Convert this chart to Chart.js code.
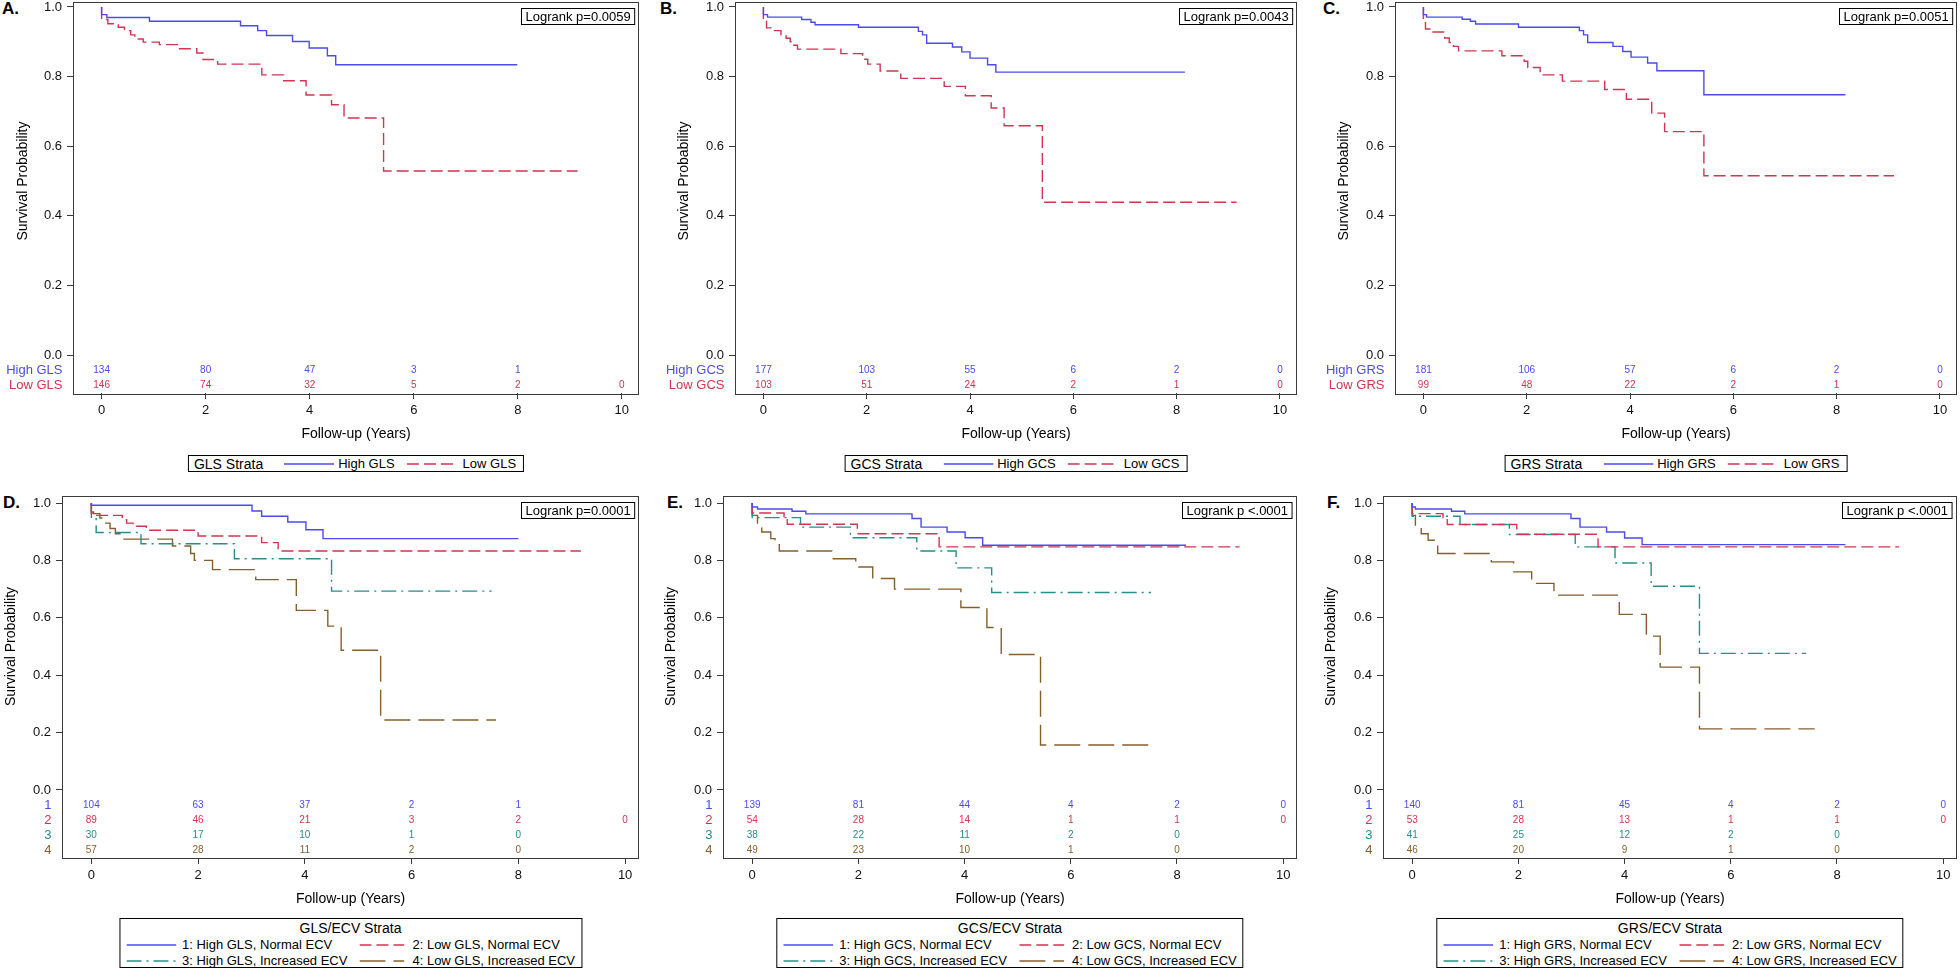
<!DOCTYPE html>
<html>
<head>
<meta charset="utf-8">
<title>Kaplan-Meier curves by strain strata</title>
<script src="https://cdn.jsdelivr.net/npm/chart.js@4.4.1/dist/chart.umd.min.js"></script>
<style>
  html, body { margin: 0; padding: 0; background: #fff; }
  body { width: 1960px; height: 968px; position: relative; overflow: hidden; font-family: "Liberation Sans", Arial, sans-serif; color: #000; }
  canvas { position: absolute; }
  .tag { position: absolute; font-weight: bold; font-size: 17px; line-height: 18px; }
  .legend { position: absolute; border: 1px solid #000; box-sizing: border-box; background: #fff; white-space: nowrap; transform: translateX(-50%); }
  .legend.one { height: 17px; display: flex; align-items: center; padding: 0 7px 0 5px; font-size: 13px; }
  .legend.one .ttl { font-size: 14px; margin-right: 21px; }
  .legend.four { height: 50px; padding: 0 6px; font-size: 13px; }
  .legend.four .ttl { font-size: 14px; line-height: 18px; text-align: center; }
  .legend.four .grid { display: grid; grid-template-columns: auto auto auto auto; align-items: center; line-height: 16px; }
  svg { display: block; }
</style>
</head>
<body>
<script>
// axis ticks and at-risk time points
const xTicks = [0, 2, 4, 6, 8, 10];
const yTicks = [0, 0.2, 0.4, 0.6, 0.8, 1.0];
const riskTimes = [0, 2, 4, 6, 8, 10];

// A. GLS strata  [time (years), survival]
const aHigh = [[0,1],[0,0.978],[0.10,0.970],[0.92,0.959],[2.67,0.946],[3.00,0.932],[3.17,0.918],[3.67,0.901],[3.99,0.882],[4.34,0.860],[4.50,0.834],[7.99,0.834]];
const aLow = [[0,1],[0,0.964],[0.12,0.952],[0.32,0.942],[0.44,0.932],[0.56,0.920],[0.64,0.908],[0.80,0.899],[1.11,0.892],[1.47,0.880],[1.83,0.868],[1.95,0.849],[2.23,0.836],[3.08,0.805],[3.50,0.788],[3.93,0.747],[4.42,0.719],[4.66,0.681],[5.42,0.529],[9.15,0.529]];
const aRiskHigh = [134, 80, 47, 3, 1, null];
const aRiskLow = [146, 74, 32, 5, 2, 0];

// B. GCS strata
const bHigh = [[0,1],[0,0.978],[0.08,0.971],[0.74,0.964],[0.92,0.956],[1.00,0.949],[1.84,0.942],[3.00,0.930],[3.08,0.920],[3.16,0.896],[3.66,0.885],[3.84,0.871],[4.00,0.853],[4.34,0.834],[4.50,0.813],[8.16,0.813]];
const bLow = [[0,1],[0,0.960],[0.06,0.940],[0.16,0.932],[0.34,0.920],[0.44,0.910],[0.52,0.900],[0.56,0.890],[0.66,0.879],[1.50,0.866],[1.92,0.850],[2.02,0.836],[2.26,0.816],[2.66,0.795],[3.50,0.772],[3.91,0.745],[4.41,0.710],[4.66,0.659],[5.40,0.439],[9.16,0.439]];
const bRiskHigh = [177, 103, 55, 6, 2, 0];
const bRiskLow = [103, 51, 24, 2, 1, 0];

// C. GRS strata
const cHigh = [[0,1],[0,0.978],[0.06,0.971],[0.75,0.965],[0.91,0.959],[1.01,0.951],[1.84,0.942],[3.02,0.932],[3.10,0.920],[3.18,0.898],[3.67,0.887],[3.86,0.872],[4.02,0.856],[4.34,0.839],[4.52,0.817],[5.43,0.748],[8.17,0.748]];
const cLow = [[0,1],[0,0.960],[0.04,0.937],[0.16,0.928],[0.41,0.911],[0.50,0.898],[0.58,0.887],[0.68,0.874],[1.52,0.860],[1.95,0.844],[2.02,0.826],[2.26,0.805],[2.69,0.787],[3.51,0.763],[3.93,0.735],[4.42,0.695],[4.67,0.642],[5.43,0.515],[9.11,0.515]];
const cRiskHigh = [181, 106, 57, 6, 2, 0];
const cRiskLow = [99, 48, 22, 2, 1, 0];

// D. GLS/ECV strata
const d1 = [[0,1],[0,0.992],[3.01,0.972],[3.19,0.954],[3.68,0.934],[4.02,0.907],[4.34,0.876],[8.00,0.876]];
const d2 = [[0,1],[0,0.965],[0.08,0.957],[0.58,0.942],[0.66,0.930],[0.78,0.919],[1.03,0.905],[2.00,0.885],[3.19,0.862],[3.50,0.833],[9.17,0.833]];
const d3 = [[0,1],[0,0.945],[0.09,0.897],[0.93,0.858],[2.68,0.806],[4.50,0.693],[7.50,0.693]];
const d4 = [[0,1],[0,0.969],[0.04,0.963],[0.16,0.948],[0.27,0.930],[0.35,0.911],[0.45,0.893],[0.56,0.874],[1.52,0.850],[1.86,0.824],[1.93,0.800],[2.27,0.768],[3.08,0.733],[3.84,0.626],[4.43,0.571],[4.68,0.487],[5.42,0.244],[7.58,0.244]];
const dRisk1 = [104, 63, 37, 2, 1, null];
const dRisk2 = [89, 46, 21, 3, 2, 0];
const dRisk3 = [30, 17, 10, 1, 0, null];
const dRisk4 = [57, 28, 11, 2, 0, null];

// E. GCS/ECV strata
const e1 = [[0,1],[0,0.986],[0.10,0.979],[0.75,0.971],[1.01,0.962],[3.01,0.946],[3.18,0.916],[3.67,0.899],[4.01,0.879],[4.34,0.853],[8.17,0.853]];
const e2 = [[0,1],[0,0.965],[0.60,0.942],[0.66,0.926],[1.98,0.893],[3.52,0.847],[9.18,0.847]];
const e3 = [[0,1],[0,0.949],[0.91,0.916],[1.85,0.879],[3.10,0.833],[3.84,0.774],[4.51,0.688],[7.51,0.688]];
const e4 = [[0,1],[0,0.957],[0.10,0.930],[0.18,0.899],[0.35,0.876],[0.43,0.858],[0.51,0.833],[1.50,0.806],[1.95,0.777],[2.27,0.737],[2.68,0.700],[3.93,0.636],[4.42,0.566],[4.69,0.472],[5.43,0.157],[7.60,0.157]];
const eRisk1 = [139, 81, 44, 4, 2, 0];
const eRisk2 = [54, 28, 14, 1, 1, 0];
const eRisk3 = [38, 22, 11, 2, 0, null];
const eRisk4 = [49, 23, 10, 1, 0, null];

// F. GRS/ECV strata
const f1 = [[0,1],[0,0.986],[0.06,0.979],[0.74,0.971],[0.99,0.962],[2.99,0.946],[3.16,0.916],[3.66,0.899],[4.00,0.878],[4.33,0.855],[8.16,0.855]];
const f2 = [[0,1],[0,0.963],[0.58,0.942],[0.66,0.925],[1.97,0.891],[3.50,0.847],[9.17,0.847]];
const f3 = [[0,1],[0,0.954],[0.90,0.925],[1.83,0.890],[3.07,0.847],[3.82,0.791],[4.50,0.710],[5.41,0.476],[7.42,0.476]];
const f4 = [[0,1],[0,0.957],[0.06,0.916],[0.17,0.893],[0.30,0.870],[0.48,0.824],[1.49,0.795],[1.91,0.760],[2.25,0.720],[2.67,0.679],[3.90,0.612],[4.41,0.536],[4.67,0.428],[5.41,0.213],[7.58,0.213]];
const fRisk1 = [140, 81, 45, 4, 2, 0];
const fRisk2 = [53, 28, 13, 1, 1, 0];
const fRisk3 = [41, 25, 12, 2, 0, null];
const fRisk4 = [46, 20, 9, 1, 0, null];

const FONT = '"Liberation Sans", Arial, Helvetica, sans-serif';
const colors = { blue: '#4b4bf0', red: '#d2354f', teal: '#23908a', brown: '#86602c' };
const dashes = { blue: [], red: [12, 5], teal: [15, 5, 2, 5], brown: [26, 8] };

// geometry of each panel row (page pixels)
const rowTop = { top: 0, padTop: 1.5, frameB: 393, yMin: -0.109, yMax: 1.0158, xMin: -0.55, xMax: 10.33, legendTop: 455 };
const rowBot = { top: 480, padTop: 16, frameB: 858, yMin: -0.237, yMax: 1.0244, xMin: -0.55, xMax: 10.26, legendTop: 918 };

const panels = [
  { row: rowTop, tag: 'A.', tagX: 2, left: 0, axisW: 73, frameR: 639, yTitleX: 23, p: 'Logrank p=0.0059', strata: 'GLS Strata',
    series: [{ name: 'High GLS', row: 'High GLS', pts: aHigh, n: aRiskHigh, s: 'blue' }, { name: 'Low GLS', row: 'Low GLS', pts: aLow, n: aRiskLow, s: 'red' }] },
  { row: rowTop, tag: 'B.', tagX: 660, left: 662, axisW: 73, frameR: 1297, yTitleX: 22, p: 'Logrank p=0.0043', strata: 'GCS Strata',
    series: [{ name: 'High GCS', row: 'High GCS', pts: bHigh, n: bRiskHigh, s: 'blue' }, { name: 'Low GCS', row: 'Low GCS', pts: bLow, n: bRiskLow, s: 'red' }] },
  { row: rowTop, tag: 'C.', tagX: 1323, left: 1322, axisW: 73, frameR: 1957, yTitleX: 22, p: 'Logrank p=0.0051', strata: 'GRS Strata',
    series: [{ name: 'High GRS', row: 'High GRS', pts: cHigh, n: cRiskHigh, s: 'blue' }, { name: 'Low GRS', row: 'Low GRS', pts: cLow, n: cRiskLow, s: 'red' }] },
  { row: rowBot, tag: 'D.', tagX: 3, left: 0, axisW: 62, frameR: 639, yTitleX: 11, p: 'Logrank p=0.0001', strata: 'GLS/ECV Strata',
    series: [{ name: '1: High GLS, Normal ECV', row: '1', pts: d1, n: dRisk1, s: 'blue' }, { name: '2: Low GLS, Normal ECV', row: '2', pts: d2, n: dRisk2, s: 'red' },
             { name: '3: High GLS, Increased ECV', row: '3', pts: d3, n: dRisk3, s: 'teal' }, { name: '4: Low GLS, Increased ECV', row: '4', pts: d4, n: dRisk4, s: 'brown' }] },
  { row: rowBot, tag: 'E.', tagX: 667, left: 661, axisW: 62, frameR: 1297, yTitleX: 10, p: 'Logrank p <.0001', strata: 'GCS/ECV Strata',
    series: [{ name: '1: High GCS, Normal ECV', row: '1', pts: e1, n: eRisk1, s: 'blue' }, { name: '2: Low GCS, Normal ECV', row: '2', pts: e2, n: eRisk2, s: 'red' },
             { name: '3: High GCS, Increased ECV', row: '3', pts: e3, n: eRisk3, s: 'teal' }, { name: '4: Low GCS, Increased ECV', row: '4', pts: e4, n: eRisk4, s: 'brown' }] },
  { row: rowBot, tag: 'F.', tagX: 1327, left: 1321, axisW: 62, frameR: 1957, yTitleX: 10.6, p: 'Logrank p <.0001', strata: 'GRS/ECV Strata',
    series: [{ name: '1: High GRS, Normal ECV', row: '1', pts: f1, n: fRisk1, s: 'blue' }, { name: '2: Low GRS, Normal ECV', row: '2', pts: f2, n: fRisk2, s: 'red' },
             { name: '3: High GRS, Increased ECV', row: '3', pts: f3, n: fRisk3, s: 'teal' }, { name: '4: Low GRS, Increased ECV', row: '4', pts: f4, n: fRisk4, s: 'brown' }] }
];

// frame box, y title, logrank box and at-risk table
const kmExtras = {
  id: 'kmExtras',
  afterDraw(chart, args, opts) {
    const { ctx, chartArea: a } = chart;
    const xs = chart.scales.x, ys = chart.scales.y;
    ctx.save();
    ctx.strokeStyle = '#3a3a3a';
    ctx.lineWidth = 1;
    ctx.strokeRect(Math.round(a.left) + 0.5, Math.round(a.top) + 0.5, Math.round(a.right - a.left) - 1, Math.round(a.bottom - a.top));

    // y axis title centred on the 0..1 range
    ctx.save();
    ctx.translate(opts.yTitleX, (ys.getPixelForValue(0) + ys.getPixelForValue(1)) / 2);
    ctx.rotate(-Math.PI / 2);
    ctx.font = '14px ' + FONT;
    ctx.fillStyle = '#000';
    ctx.textAlign = 'center';
    ctx.textBaseline = 'middle';
    ctx.fillText('Survival Probability', 0, 0);
    ctx.restore();

    // logrank box
    ctx.font = '13px ' + FONT;
    const w = ctx.measureText(opts.p).width + 8;
    const bx = Math.round(a.right - 5 - w) + 0.5, by = Math.round(a.top + 6) + 0.5;
    ctx.fillStyle = '#fff';
    ctx.fillRect(bx, by, w, 16);
    ctx.strokeStyle = '#000';
    ctx.strokeRect(bx, by, w, 16);
    ctx.fillStyle = '#000';
    ctx.textAlign = 'left';
    ctx.textBaseline = 'middle';
    ctx.fillText(opts.p, bx + 4, by + 8.5);

    // number at risk
    const y0 = ys.getPixelForValue(0);
    opts.rows.forEach((r, i) => {
      const y = y0 + 15 * (i + 1);
      ctx.fillStyle = r.color;
      ctx.font = '13px ' + FONT;
      ctx.textAlign = 'right';
      ctx.fillText(r.label, a.left - 10.5, y);
      ctx.font = '10px ' + FONT;
      ctx.textAlign = 'center';
      riskTimes.forEach((t, j) => {
        if (r.n[j] !== null) ctx.fillText(String(r.n[j]), xs.getPixelForValue(t), y);
      });
    });
    ctx.restore();
  }
};

function sample(style, w) {
  const d = dashes[style].join(' ');
  return '<svg width="' + w + '" height="10"><line x1="0" y1="5" x2="' + w + '" y2="5" stroke="' + colors[style] +
    '" stroke-width="1.5"' + (d ? ' stroke-dasharray="' + d + '"' : '') + '/></svg>';
}

panels.forEach(pn => {
  const r = pn.row;
  const width = pn.frameR - pn.left + 2;
  const height = r.frameB - r.top + 58;

  const tag = document.createElement('div');
  tag.className = 'tag';
  tag.textContent = pn.tag;
  tag.style.left = pn.tagX + 'px';
  tag.style.top = (r.top + (r === rowTop ? 0 : 14)) + 'px';
  document.body.appendChild(tag);

  const cv = document.createElement('canvas');
  cv.width = width;
  cv.height = height;
  cv.style.left = pn.left + 'px';
  cv.style.top = r.top + 'px';
  cv.style.width = width + 'px';
  cv.style.height = height + 'px';
  document.body.appendChild(cv);

  const tickGrid = { display: true, drawOnChartArea: false, drawTicks: true, tickLength: 6, color: '#3a3a3a', lineWidth: 1 };

  new Chart(cv.getContext('2d'), {
    type: 'line',
    data: {
      datasets: pn.series.map(s => ({
        label: s.name,
        data: s.pts.map(([x, y]) => ({ x, y })),
        stepped: 'before',
        borderColor: colors[s.s],
        borderWidth: 1.4,
        borderDash: dashes[s.s],
        pointRadius: 0,
        fill: false
      }))
    },
    options: {
      responsive: false,
      animation: false,
      devicePixelRatio: 1,
      layout: { padding: { top: r.padTop, right: 2, bottom: 0, left: 0 } },
      plugins: {
        legend: { display: false },
        tooltip: { enabled: false },
        kmExtras: {
          p: pn.p,
          yTitleX: pn.yTitleX,
          rows: pn.series.map(s => ({ label: s.row, color: colors[s.s], n: s.n }))
        }
      },
      scales: {
        x: {
          type: 'linear',
          min: r.xMin,
          max: r.xMax,
          afterBuildTicks: sc => { sc.ticks = xTicks.map(v => ({ value: v })); },
          afterFit: sc => { sc.height = 58; sc.paddingLeft = 0; sc.paddingRight = 0; },
          grid: tickGrid,
          border: { display: false },
          ticks: { color: '#111', font: { size: 13, family: FONT }, padding: 4, maxRotation: 0, autoSkip: false, callback: v => String(v) },
          title: { display: true, text: 'Follow-up (Years)', color: '#000', font: { size: 14, family: FONT }, padding: { top: 0, bottom: 8.6 } }
        },
        y: {
          type: 'linear',
          min: r.yMin,
          max: r.yMax,
          afterBuildTicks: sc => { sc.ticks = yTicks.map(v => ({ value: v })); },
          afterFit: sc => { sc.width = pn.axisW; sc.paddingTop = 0; sc.paddingBottom = 0; },
          grid: tickGrid,
          border: { display: false },
          ticks: { color: '#111', font: { size: 13, family: FONT }, padding: 5, callback: v => Number(v).toFixed(1) }
        }
      }
    },
    plugins: [kmExtras]
  });

  // legend under each panel
  const lg = document.createElement('div');
  const cx = pn.left + pn.axisW + (pn.frameR - pn.left - pn.axisW) / 2;
  lg.style.left = cx + 'px';
  lg.style.top = r.legendTop + 'px';
  if (pn.series.length === 2) {
    lg.className = 'legend one';
    lg.innerHTML = '<span class="ttl">' + pn.strata + '</span>' +
      sample('blue', 50) + '<span style="margin-left:4px">' + pn.series[0].name + '</span>' +
      '<span style="margin-left:12px">' + sample('red', 46) + '</span>' +
      '<span style="margin-left:10px">' + pn.series[1].name + '</span>';
  } else {
    lg.className = 'legend four';
    let cells = '';
    pn.series.forEach((s, i) => {
      const col2 = i % 2 === 1;
      cells += '<div style="margin-left:' + (col2 ? 12 : 0) + 'px">' + sample(s.s, col2 ? 45 : 50) + '</div>' +
               '<div style="margin-left:' + (col2 ? 8 : 6) + 'px">' + s.name + '</div>';
    });
    lg.innerHTML = '<div class="ttl">' + pn.strata + '</div><div class="grid">' + cells + '</div>';
  }
  document.body.appendChild(lg);
});
</script>
</body>
</html>
